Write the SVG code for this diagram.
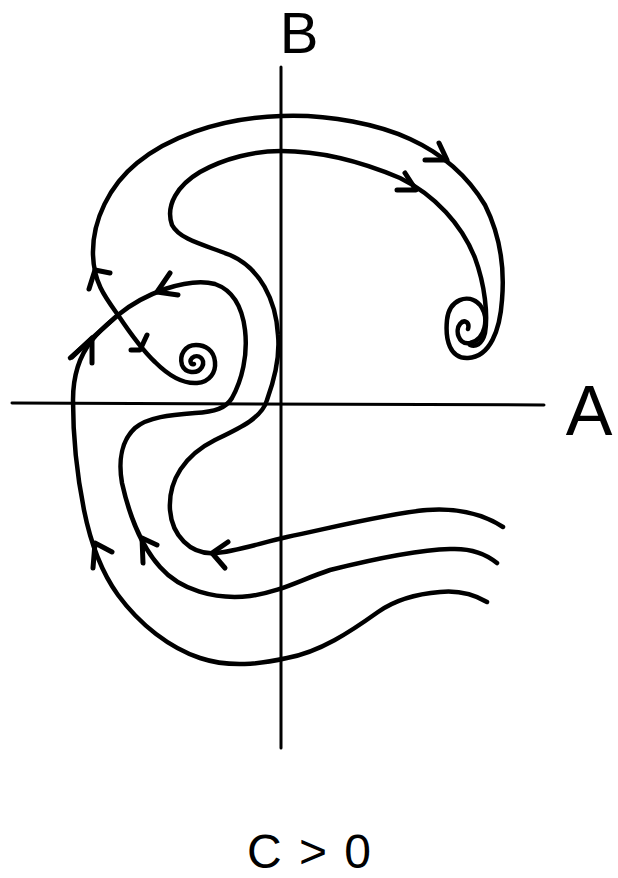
<svg xmlns="http://www.w3.org/2000/svg" width="618" height="878" viewBox="0 0 618 878">
<style>
.ax{fill:none;stroke:#000;stroke-width:3;stroke-linecap:round}
.tr{fill:none;stroke:#000;stroke-width:4.5;stroke-linecap:round;stroke-linejoin:round}
.ah{fill:none;stroke:#000;stroke-width:5;stroke-linecap:round;stroke-linejoin:round}
.lb{font-family:"Liberation Sans","DejaVu Sans",sans-serif;fill:#000}
</style>
<rect width="618" height="878" fill="#fff"/>
<g id="axes">
<path class="ax" d="M281,67 L281,748"/>
<path class="ax" d="M12,403 L544,405"/>
</g>
<g id="label-B"><text class="lb" x="299" y="53" font-size="58" text-anchor="middle">B</text></g>
<g id="label-A"><text class="lb" x="589" y="435" font-size="70" text-anchor="middle">A</text></g>
<g id="label-C"><text class="lb" x="310" y="868" font-size="48" text-anchor="middle" letter-spacing="2">C &gt; 0</text></g>
<g id="connectors">
<path id="outer-top" class="tr" d="M118,315 C105,297 94,283 93,255 C92,220 110,185 137,163 C165,140 215,118 281,116 C330,114 380,125 410,139 C445,155 470,180 485,205 C500,235 505,265 502,300 C500,330 490,357 468,358 C450,359 445,340 447,320 C449,300 468,292 480,305 C490,318 485,340 470,343 C458,345 455,330 460,324 C464,319 470,322 468,329"/>
<path id="inner-s" class="tr" d="M503,527 C480,512 455,508 427,510 C390,513 330,528 287,537 C260,543 235,552 215,553 C190,555 172,535 170,510 C168,480 185,455 215,440 C240,428 262,418 267,400 C275,378 280,355 278,335 C276,300 260,268 230,255 C205,245 180,240 172,225 C165,205 178,185 200,172 C225,158 255,151 281,151 C320,151 360,161 400,178 C435,195 462,225 475,258 C485,285 488,315 485,333 C482,345 475,347 470,345"/>
<path id="middle" class="tr" d="M497,563 C485,553 470,548 450,549 C415,550 370,560 330,570 C300,580 280,592 250,596 C215,600 180,590 160,567 C140,545 128,510 122,483 C118,460 122,440 135,428 C148,417 170,415 195,413 C215,412 226,408 232,398 C242,380 248,355 245,330 C242,305 232,290 215,284 C200,280 180,284 165,289 C148,295 130,305 118,315"/>
<path id="outer-bottom" class="tr" d="M487,602 C475,595 460,590 440,592 C415,594 395,600 378,612 C350,632 320,652 287,658 C260,664 230,668 200,658 C170,648 140,625 118,595 C100,570 90,540 84,510 C78,480 73,440 73,400 C73,375 80,355 92,340 C100,330 110,322 118,315"/>
<path id="to-left-spiral" class="tr" d="M118,315 C128,330 140,348 155,362 C168,375 182,384 197,383 C210,382 216,372 215,362 C214,350 205,345 196,345 C185,345 179,355 182,365 C185,373 197,375 202,367 C206,359 198,353 192,358 C189,361 191,365 194,364"/>
<path id="saddle-tail" class="tr" d="M118,315 L70,358"/>
<path class="ah" d="M439,143 L447,160 L425,160"/>
<path class="ah" d="M405,173 L416,190 L397,190"/>
<path class="ah" d="M89,289 L95,270 L110,273"/>
<path class="ah" d="M131,350 L140,350 L147,335"/>
<path class="ah" d="M170,273 L157,292 L178,295"/>
<path class="ah" d="M72,357 L92,338 L92,363"/>
<path class="ah" d="M93,568 L95,543 L112,552"/>
<path class="ah" d="M143,563 L142,538 L157,545"/>
<path class="ah" d="M228,542 L212,553 L225,568"/>
</g>
</svg>
